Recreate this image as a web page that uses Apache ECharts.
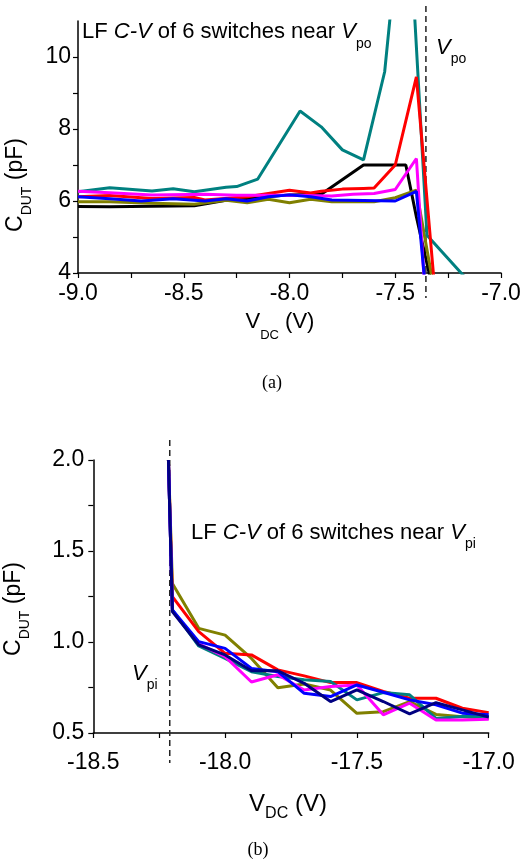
<!DOCTYPE html>
<html><head><meta charset="utf-8">
<script src="https://cdn.jsdelivr.net/npm/echarts@6/dist/echarts.min.js"></script>
<style>html,body{margin:0;padding:0;background:#fff}#c{width:521px;height:865px}</style>
</head><body><div id="c"></div>
<script>
// ---------- (a) near V_po ----------
const aTealV = [-9.0, -8.85, -8.65, -8.55, -8.45, -8.3, -8.25, -8.15, -7.95, -7.85, -7.75, -7.65, -7.55, -7.45, -7.35, -7.15];
const aTealC = [6.26, 6.37, 6.28, 6.34, 6.26, 6.38, 6.40, 6.61, 8.50, 8.06, 7.42, 7.14, 9.59, 15.5, 5.05, 3.75];
const aRedV = [-9.0, -8.85, -8.65, -8.45, -8.4, -8.2, -8.0, -7.9, -7.85, -7.75, -7.65, -7.6, -7.5, -7.4, -7.3];
const aRedC = [6.12, 6.15, 6.07, 6.10, 6.03, 6.12, 6.30, 6.22, 6.27, 6.33, 6.35, 6.36, 7.0, 9.45, 2.65];
const aBlackV = [-9.0, -8.85, -8.45, -8.3, -8.0, -7.85, -7.65, -7.45, -7.4, -7.3];
const aBlackC = [5.85, 5.84, 5.87, 6.02, 6.17, 6.19, 7.0, 7.0, 5.56, 2.96];
const aMagentaV = [-9.0, -8.85, -8.65, -8.4, -8.25, -8.0, -7.8, -7.7, -7.6, -7.5, -7.4, -7.35];
const aMagentaC = [6.27, 6.23, 6.17, 6.19, 6.16, 6.16, 6.14, 6.19, 6.21, 6.32, 7.18, 2.6];
const aBlueV = [-9.0, -8.85, -8.7, -8.55, -8.4, -8.3, -8.2, -8.1, -8.0, -7.9, -7.8, -7.5, -7.4, -7.35];
const aBlueC = [6.12, 6.06, 6.0, 6.06, 6.0, 6.06, 6.0, 6.12, 6.17, 6.12, 6.03, 6.0, 6.27, 3.1];
const aOliveV = [-9.0, -8.85, -8.65, -8.45, -8.3, -8.2, -8.1, -8.0, -7.9, -7.8, -7.6, -7.5, -7.4, -7.3];
const aOliveC = [5.98, 5.98, 5.94, 5.91, 6.02, 5.95, 6.05, 5.95, 6.05, 5.98, 5.98, 6.09, 6.3, 3.0];
const aVpo = -7.355;
const aXTicks = [-9.0, -8.75, -8.5, -8.25, -8.0, -7.75, -7.5, -7.25, -7.0];
const aXLabels = [-9.0, -8.5, -8.0, -7.5, -7.0];
const aYTicks = [4, 5, 6, 7, 8, 9, 10];
const aYLabels = [4, 6, 8, 10];

// ---------- (b) near V_pi ----------
const bV = [-18.215, -18.2, -18.1, -18.0, -17.9, -17.8, -17.7, -17.6, -17.5, -17.4, -17.3, -17.2, -17.1, -17.0];
const bRed = [2.0, 1.249, 1.057, 0.938, 0.929, 0.847, 0.814, 0.777, 0.777, 0.728, 0.691, 0.691, 0.636, 0.612];
const bOlive = [2.0, 1.322, 1.075, 1.038, 0.910, 0.749, 0.769, 0.736, 0.608, 0.617, 0.672, 0.602, 0.589, 0.58];
const bBlue = [2.0, 1.176, 1.002, 0.965, 0.855, 0.837, 0.718, 0.70, 0.764, 0.724, 0.682, 0.655, 0.609, 0.60];
const bTeal = [2.0, 1.176, 0.978, 0.91, 0.837, 0.81, 0.792, 0.783, 0.682, 0.722, 0.71, 0.58, 0.59, 0.59];
const bMagenta = [2.0, 1.17, 0.99, 0.92, 0.78, 0.82, 0.736, 0.755, 0.764, 0.60, 0.664, 0.571, 0.571, 0.575];
const bNavy = [2.0, 1.167, 0.984, 0.929, 0.842, 0.842, 0.773, 0.673, 0.737, 0.673, 0.605, 0.667, 0.627, 0.587];
const bVpi = -18.21;
const bXTicks = [-18.5, -18.25, -18.0, -17.75, -17.5, -17.25, -17.0];
const bXLabels = [-18.5, -18.0, -17.5, -17.0];
const bYTicks = [0.5, 0.75, 1.0, 1.25, 1.5, 1.75, 2.0];
const bYLabels = [0.5, 1.0, 1.5, 2.0];

const FONT = 'Liberation Sans, Arial, sans-serif';
const pairs = (xs, ys) => xs.map((x, i) => [x, ys[i]]);

function line(name, data, color, idx) {
  return {
    name, type: 'line', data, xAxisIndex: idx, yAxisIndex: idx,
    showSymbol: false, symbol: 'none', clip: true, animation: false,
    lineStyle: { color, width: 3 }, itemStyle: { color }
  };
}

function subRich(fa, fs, pb) {
  return {
    a: { fontFamily: FONT, fontSize: fa, lineHeight: fa, color: '#000', verticalAlign: 'bottom', padding: [0, 0, pb, 0] },
    i: { fontFamily: FONT, fontSize: fa, lineHeight: fa, color: '#000', fontStyle: 'italic', verticalAlign: 'bottom', padding: [0, 0, pb, 0] },
    s: { fontFamily: FONT, fontSize: fs, lineHeight: fs, color: '#000', verticalAlign: 'bottom' }
  };
}

const axisCommon = {
  axisLine: { show: true, onZero: false, lineStyle: { color: '#000', width: 1.5 } },
  splitLine: { show: false },
};

function xAxis(idx, min, max, ticks, labels, margin, nameCfg) {
  return Object.assign({
    type: 'value', gridIndex: idx, min, max, interval: 0.5,
    axisTick: { show: true, customValues: ticks, length: 5, lineStyle: { color: '#000', width: 1.2 } },
    axisLabel: { customValues: labels, margin, color: '#000', fontFamily: FONT, fontSize: 23,
      formatter: v => Number(v).toFixed(1) },
  }, axisCommon, nameCfg);
}
function yAxis(idx, min, max, interval, ticks, labels, margin, fmt, nameCfg) {
  return Object.assign({
    type: 'value', gridIndex: idx, min, max, interval,
    axisTick: { show: true, customValues: ticks, length: 5, lineStyle: { color: '#000', width: 1.2 } },
    axisLabel: { customValues: labels, margin, color: '#000', fontFamily: FONT, fontSize: 23, formatter: fmt },
  }, axisCommon, nameCfg);
}

const chart = echarts.init(document.getElementById('c'), null, { renderer: 'canvas' });

const option = {
  animation: false,
  backgroundColor: '#fff',
  grid: [
    { left: 78, top: 21, width: 423, height: 252, containLabel: false, outerBoundsMode: 'none' },
    { left: 93.3, top: 460, width: 395.4, height: 273, containLabel: false, outerBoundsMode: 'none' }
  ],
  xAxis: [
    xAxis(0, -9.0, -7.0, aXTicks, aXLabels, 9, {
      name: '{a|V}{s|DC}{a| (V)}', nameLocation: 'middle', nameGap: 47,
      nameTextStyle: { rich: subRich(22, 13, 9), padding: [0, 19, 0, 0] }
    }),
    xAxis(1, -18.5, -17.0, bXTicks, bXLabels, 18, {
      name: '{a|V}{s|DC}{a| (V)}', nameLocation: 'middle', nameGap: 65,
      nameTextStyle: { rich: subRich(24, 16, 6), padding: [0, 6, 0, 0] }
    })
  ],
  yAxis: [
    yAxis(0, 4, 11, 2, aYTicks, aYLabels, 7, v => String(v), {
      name: '{a|C}{s|DUT}{a| (pF)}', nameLocation: 'middle', nameGap: 39,
      nameTextStyle: { rich: subRich(23, 14, 7), padding: [0, 76, 0, 0] }
    }),
    yAxis(1, 0.5, 2.0, 0.5, bYTicks, bYLabels, 9, v => Number(v).toFixed(1), {
      name: '{a|C}{s|DUT}{a| (pF)}', nameLocation: 'middle', nameGap: 61,
      nameTextStyle: { rich: subRich(23, 14, 7), padding: [0, 25, 0, 0] }
    })
  ],
  series: [
    line('a-black', pairs(aBlackV, aBlackC), '#000000', 0),
    line('a-olive', pairs(aOliveV, aOliveC), '#808000', 0),
    line('a-teal', pairs(aTealV, aTealC), '#008080', 0),
    line('a-red', pairs(aRedV, aRedC), '#ff0000', 0),
    line('a-magenta', pairs(aMagentaV, aMagentaC), '#ff00ff', 0),
    line('a-blue', pairs(aBlueV, aBlueC), '#0000ff', 0),
    line('b-olive', pairs(bV, bOlive), '#808000', 1),
    line('b-red', pairs(bV, bRed), '#ff0000', 1),
    line('b-teal', pairs(bV, bTeal), '#008080', 1),
    line('b-magenta', pairs(bV, bMagenta), '#ff00ff', 1),
    line('b-blue', pairs(bV, bBlue), '#0000ff', 1),
    line('b-navy', pairs(bV, bNavy), '#000080', 1)
  ]
};
chart.setOption(option);

const xa = chart.convertToPixel({ xAxisIndex: 0 }, aVpo);
const xb = chart.convertToPixel({ xAxisIndex: 1 }, bVpi);
const dash = { stroke: '#222', lineWidth: 1.5, lineDash: [6, 4] };

chart.setOption({
  graphic: [
    { type: 'line', z: 1, shape: { x1: xa, y1: 6, x2: xa, y2: 298 }, style: dash },
    { type: 'line', z: 1, shape: { x1: xb, y1: 440, x2: xb, y2: 763 }, style: dash },
    { type: 'text', z: 10, x: 82, y: 29, style: {
      text: '{a|LF }{i|C-V}{a| of 6 switches near }{i|V}{s|po}', rich: subRich(22, 14, 8), verticalAlign: 'top', align: 'left' } },
    { type: 'text', z: 10, x: 436, y: 44.5, style: {
      text: '{i|V}{s|po}', rich: subRich(22, 14, 8), verticalAlign: 'top', align: 'left' } },
    { type: 'text', z: 10, x: 191, y: 529.5, style: {
      text: '{a|LF }{i|C-V}{a| of 6 switches near }{i|V}{s|pi}', rich: subRich(22, 14, 8), verticalAlign: 'top', align: 'left' } },
    { type: 'text', z: 10, x: 132, y: 670.5, style: {
      text: '{i|V}{s|pi}', rich: subRich(22, 14, 8), verticalAlign: 'top', align: 'left' } },
    { type: 'text', z: 10, x: 272, y: 383, style: {
      text: '(a)', fontFamily: 'Liberation Serif, Times New Roman, serif', fontSize: 18, fill: '#000', align: 'center', verticalAlign: 'middle' } },
    { type: 'text', z: 10, x: 258, y: 850, style: {
      text: '(b)', fontFamily: 'Liberation Serif, Times New Roman, serif', fontSize: 18, fill: '#000', align: 'center', verticalAlign: 'middle' } }
  ]
});
</script></body></html>
